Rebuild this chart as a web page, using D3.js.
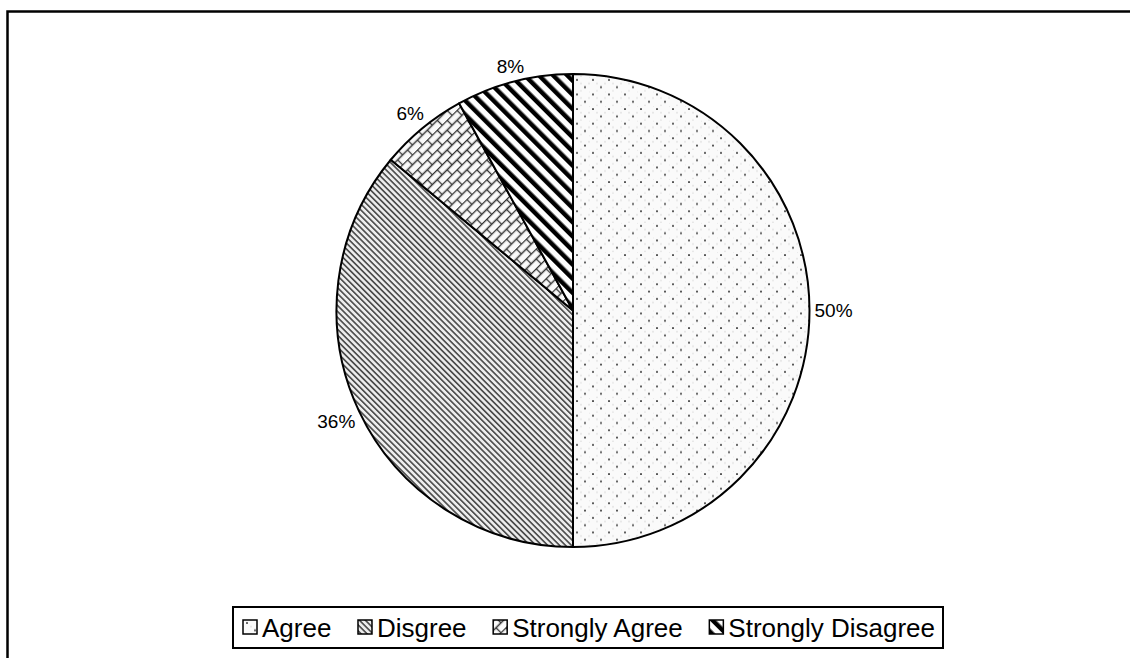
<!DOCTYPE html>
<html>
<head>
<meta charset="utf-8">
<script src="https://cdn.jsdelivr.net/npm/d3@7"></script>
<style>
  html, body { margin: 0; padding: 0; background: #fff; }
  svg { display: block; }
  text { font-family: "Liberation Sans", Arial, sans-serif; fill: #000; }
</style>
</head>
<body>
<svg id="chart" width="1130" height="658"></svg>
<script>
// Survey responses (share of respondents)
const categories = ["Agree", "Disgree", "Strongly Agree", "Strongly Disagree"];
const shares = [50, 36, 6, 8];
const labels = ["50%", "36%", "6%", "8%"];
const patternIds = ["pat-dots", "pat-diag", "pat-brick", "pat-stripe"];

const cx = 573, cy = 310.5, R = 236.5;

const svg = d3.select("#chart");
const defs = svg.append("defs");

// Sparse staggered dots on a pale ground
const dots = defs.append("pattern").attr("id", "pat-dots")
  .attr("patternUnits", "userSpaceOnUse").attr("width", 16).attr("height", 14.6);
dots.append("rect").attr("width", 16).attr("height", 14.6).attr("fill", "#fafafa");
[[4, 3], [12, 10.3]].forEach(([x, y]) => {
  dots.append("rect").attr("x", x - 0.9).attr("y", y - 0.9).attr("width", 1.8).attr("height", 1.8).attr("fill", "#444");
});
[[8, 6.6], [0, 6.6], [16, 6.6], [8, 14], [0, 0]].forEach(([x, y]) => {
  dots.append("circle").attr("cx", x).attr("cy", y).attr("r", 0.9).attr("fill", "#e2e2e2");
});

// Dense fine downward-diagonal hatching
const diag = defs.append("pattern").attr("id", "pat-diag")
  .attr("patternUnits", "userSpaceOnUse").attr("width", 4.2).attr("height", 4.2)
  .attr("patternTransform", "rotate(-45)");
diag.append("rect").attr("width", 4.2).attr("height", 4.2).attr("fill", "#eee");
diag.append("rect").attr("x", 0).attr("y", 0).attr("width", 1.7).attr("height", 4.2).attr("fill", "#505050");

// Diagonal brick lattice
const brick = defs.append("pattern").attr("id", "pat-brick")
  .attr("patternUnits", "userSpaceOnUse").attr("width", 14).attr("height", 14)
  .attr("patternTransform", "rotate(-45)");
brick.append("rect").attr("width", 14).attr("height", 14).attr("fill", "#fafafa");
brick.append("path")
  .attr("d", "M0,0.5H14 M0,7.5H14 M3.5,0.5V7.5 M10.5,7.5V14")
  .attr("stroke", "#333").attr("stroke-width", 1.3).attr("fill", "none");

// Bold black downward-diagonal stripes
const stripe = defs.append("pattern").attr("id", "pat-stripe")
  .attr("patternUnits", "userSpaceOnUse").attr("width", 10).attr("height", 10)
  .attr("patternTransform", "rotate(-45)");
stripe.append("rect").attr("width", 10).attr("height", 10).attr("fill", "#fff");
stripe.append("rect").attr("x", 0).attr("y", 0).attr("width", 4.5).attr("height", 10).attr("fill", "#000");

// Outer frame (open to the right and bottom)
svg.append("rect")
  .attr("x", 7.5).attr("y", 11.5).attr("width", 1400).attr("height", 900)
  .attr("fill", "none").attr("stroke", "#000").attr("stroke-width", 2.5);

// Pie
const pie = d3.pie().sort(null).value(d => d.v).startAngle(0).endAngle(2 * Math.PI);
const arcs = pie(categories.map((c, i) => ({ c, v: shares[i], i })));
const arc = d3.arc().innerRadius(0).outerRadius(R);

const g = svg.append("g").attr("transform", `translate(${cx},${cy})`);
g.selectAll("path.slice").data(arcs).join("path")
  .attr("class", "slice")
  .attr("d", arc)
  .attr("fill", d => `url(#${patternIds[d.data.i]})`)
  .attr("stroke", "#000").attr("stroke-width", 2).attr("stroke-linejoin", "round");

// Percentage labels outside the rim along each slice's mid angle
const fs = 19;
g.selectAll("text.lbl").data(arcs).join("text")
  .attr("class", "lbl")
  .attr("font-size", fs)
  .attr("text-anchor", "middle")
  .attr("dominant-baseline", "central")
  .text(d => labels[d.data.i])
  .each(function (d) {
    const a = (d.startAngle + d.endAngle) / 2;
    const s = Math.sin(a), c = -Math.cos(a);
    const w = this.getComputedTextLength();
    const h = fs * 0.72;
    const r = R + 5 + Math.abs(s) * w / 2 + Math.abs(c) * h / 2;
    d3.select(this).attr("x", s * r).attr("y", c * r);
  });

// Legend
const lg = svg.append("g");
const lx = 233, ly = 607, lw = 710, lh = 41;
lg.append("rect").attr("x", lx).attr("y", ly).attr("width", lw).attr("height", lh)
  .attr("fill", "#fff").attr("stroke", "#000").attr("stroke-width", 2);

const lfs = 26, sw = 14, st = 5;
const items = lg.selectAll("g.item").data(categories).join("g").attr("class", "item");
items.append("rect")
  .attr("width", sw).attr("height", sw)
  .attr("fill", (d, i) => `url(#${patternIds[i]})`)
  .attr("stroke", "#000").attr("stroke-width", 1.5);
items.append("text")
  .attr("x", sw + st).attr("y", sw / 2 + 1)
  .attr("dominant-baseline", "central")
  .attr("font-size", lfs)
  .text(d => d);

// Spread the entries evenly between the legend's inner margins
const widths = [];
items.each(function () { widths.push(sw + st + d3.select(this).select("text").node().getComputedTextLength()); });
const left = lx + 10, right = lx + lw - 8;
const gap = (right - left - d3.sum(widths)) / (widths.length - 1);
let x = left;
items.each(function (d, i) {
  d3.select(this).attr("transform", `translate(${x},${ly + 13})`);
  x += widths[i] + gap;
});
</script>
</body>
</html>
